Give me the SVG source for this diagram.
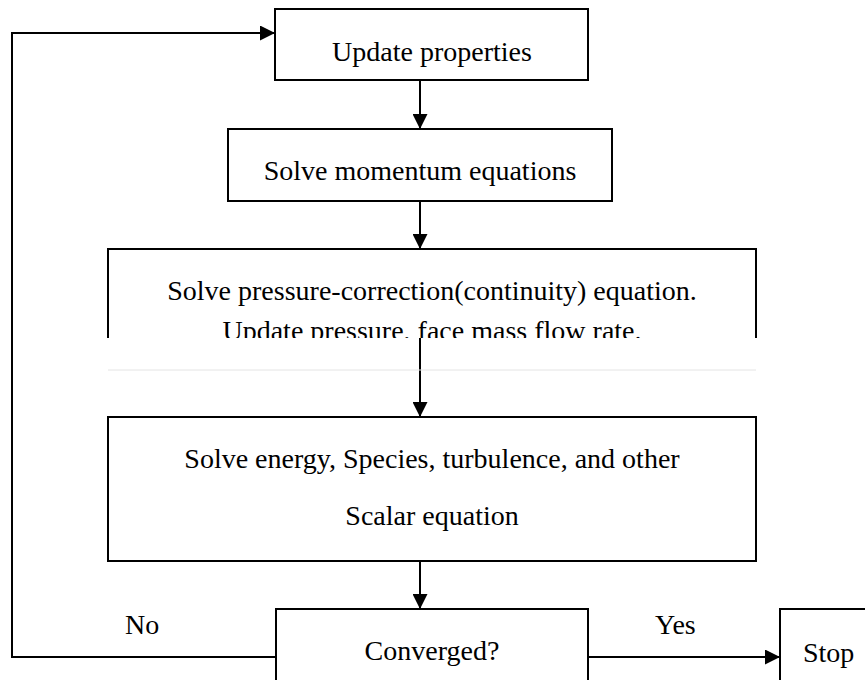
<svg xmlns="http://www.w3.org/2000/svg" width="865" height="680" viewBox="0 0 865 680">
<defs>
<marker id="arr" markerWidth="15" markerHeight="15" refX="15" refY="7.5" orient="auto" markerUnits="userSpaceOnUse">
<path d="M0,0 L15,7.5 L0,15 Z" fill="#000"/>
</marker>
<clipPath id="cut3"><rect x="0" y="0" width="865" height="338"/></clipPath>
</defs>
<style>
.box{fill:#fff;stroke:#000;stroke-width:2}
.t{font-family:"Liberation Serif","Times New Roman",serif;font-size:28px;fill:#000;text-anchor:middle}
.l{font-family:"Liberation Serif","Times New Roman",serif;font-size:28px;fill:#000}
.c{fill:none;stroke:#000;stroke-width:2}
</style>
<rect width="865" height="680" fill="#fff"/>
<g id="connectors">
<line class="c" x1="420" y1="80" x2="420" y2="129" marker-end="url(#arr)"/>
<line class="c" x1="420" y1="201" x2="420" y2="249" marker-end="url(#arr)"/>
<line class="c" x1="420" y1="338" x2="420" y2="417" marker-end="url(#arr)"/>
<line class="c" x1="420" y1="561" x2="420" y2="609" marker-end="url(#arr)"/>
<polyline class="c" points="276,657 12,657 12,33 275,33" marker-end="url(#arr)"/>
<line class="c" x1="588" y1="657" x2="780" y2="657" marker-end="url(#arr)"/>
<text class="l" x="125" y="634">No</text>
<text class="l" x="655" y="634">Yes</text>
</g>
<g id="update">
<rect class="box" x="275" y="9" width="313" height="71"/>
<text class="t" x="432" y="61">Update properties</text>
</g>
<g id="momentum">
<rect class="box" x="228" y="129" width="384" height="72"/>
<text class="t" x="420" y="180">Solve momentum equations</text>
</g>
<g id="pressure">
<g clip-path="url(#cut3)">
<rect class="box" x="108" y="249" width="648" height="120"/>
<text class="t" x="432" y="300">Solve pressure-correction(continuity) equation.</text>
<text class="t" x="432" y="340">Update pressure, face mass flow rate.</text>
</g>
<line x1="108" y1="370" x2="756" y2="370" stroke="#e4e4e4" stroke-width="1"/>
</g>
<g id="scalar">
<rect class="box" x="108" y="417" width="648" height="144"/>
<text class="t" x="432" y="468">Solve energy, Species, turbulence, and other</text>
<text class="t" x="432" y="525">Scalar equation</text>
</g>
<g id="converged">
<rect class="box" x="276" y="609" width="312" height="90"/>
<text class="t" x="432" y="660">Converged?</text>
</g>
<g id="stop">
<rect class="box" x="780" y="609" width="100" height="90"/>
<text class="l" x="803" y="662">Stop</text>
</g>
</svg>
